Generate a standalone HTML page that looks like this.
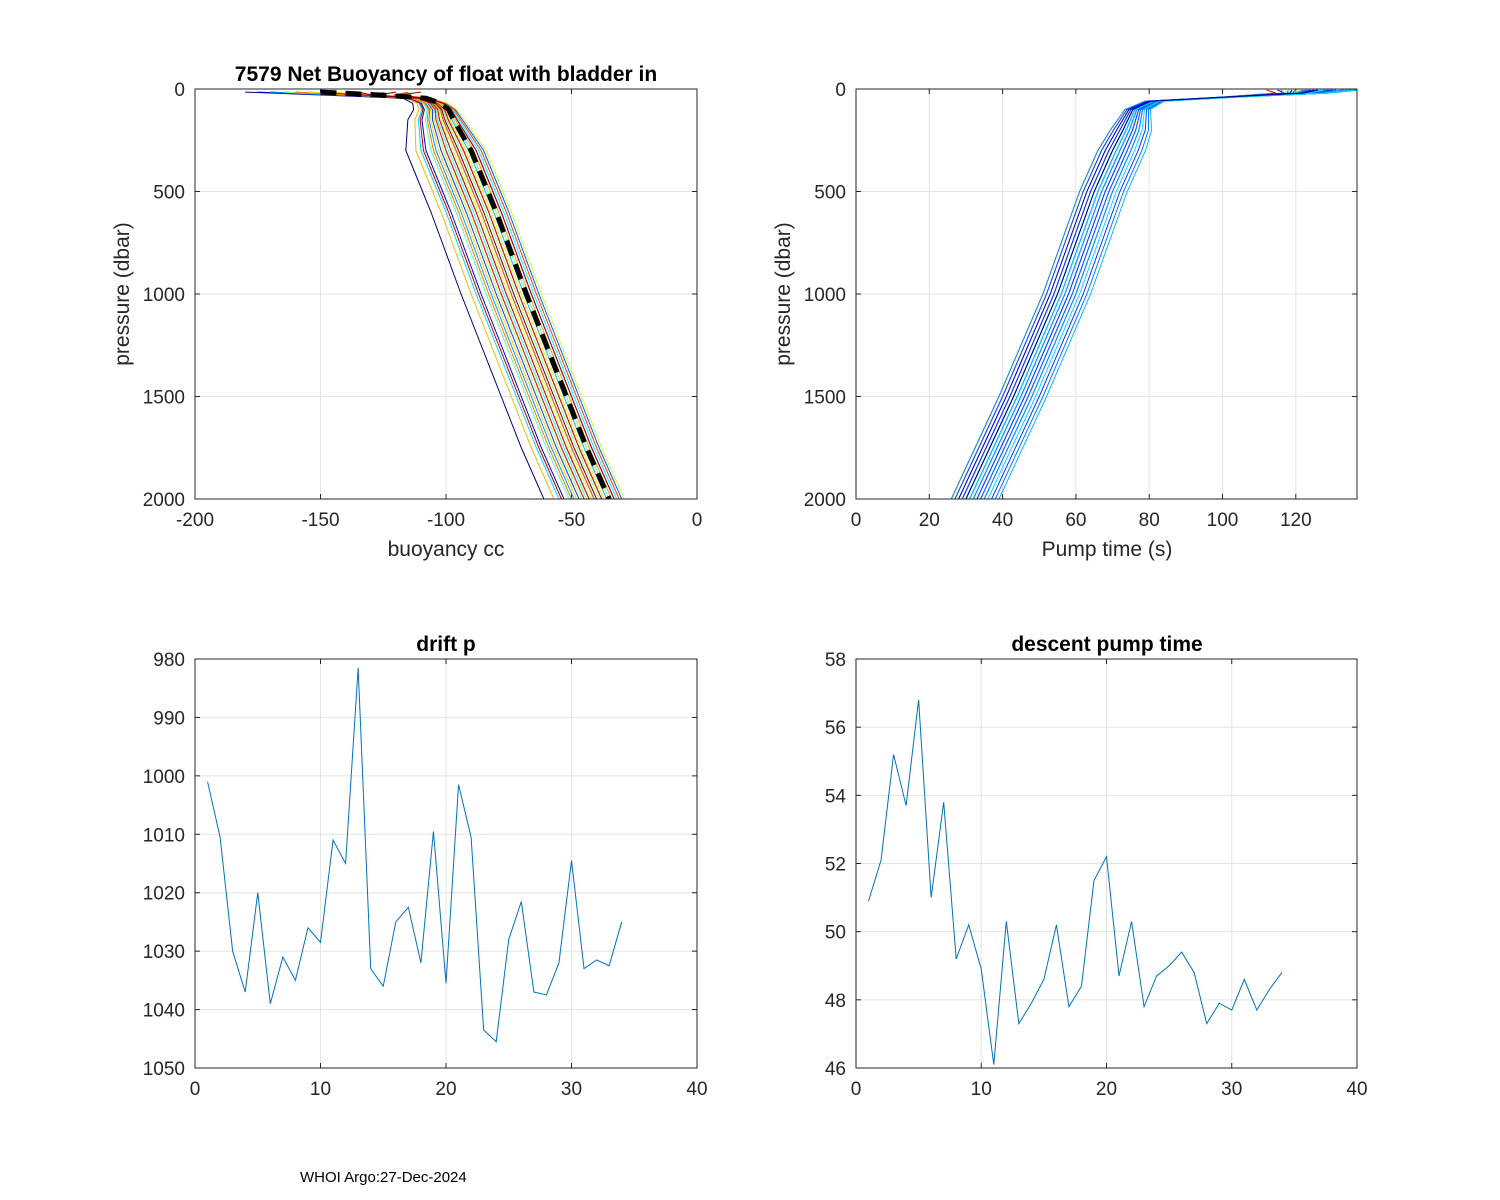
<!DOCTYPE html>
<html><head><meta charset="utf-8"><style>
body{margin:0;background:#fff;}
svg{display:block;font-family:"Liberation Sans",Arial,sans-serif;}
</style></head><body>
<svg id="fig" width="1500" height="1200" viewBox="0 0 1500 1200" xmlns="http://www.w3.org/2000/svg">
<rect width="1500" height="1200" fill="#fff"/>
<text x="300" y="1182" font-size="15">WHOI Argo:27-Dec-2024</text>
</svg>
<script>
// ---- data ----
const profilePressures = [15,30,45,70,100,150,300,450,600,800,1000,1250,1500,1750,2000];
const baseBuoyancy = [-150,-125,-108,-102,-99,-97,-90,-85,-80,-74,-68,-60,-52,-44,-35];
const buoyOffsets = [-26,-3,-10,-18,2,-6,-12,5,-8,-14,-1,-20,3,-5,-9,-16,0,-4,-11,6,-7,-2,-13,-22,1,-15,-6,4,-10,-3,-8,-19,2,-5];
const buoySurface = [-180,-170,-160,-175,-150,-165,-140,-155,-130,-170,-145,-120,-160,-135,-150,-125,-165,-140,-130,-110,-155,-145,-120,-135,-150,-160,-125,-115,-140,-150,-130,-120,-110,-135];
const pumpPressures = [5,20,40,60,100,200,300,500,800,1000,1500,2000];
const basePump = [128,118,100,80,75,72,69,64,58,54,42,29];
const pumpOffsets = [0,-2,1,-3,2,4,-1,3,0,-2,5,1,-3,2,6,-1,3,8,0,4,-2,1,5,9,2,-3,6,0,3,10,-1,2,7,1];
const pumpSurface = [120,118,125,112,130,137,122,115,128,119,135,124,117,126,137,121,129,133,118,136,123,127,131,137,120,116,134,125,122,137,119,128,136,126];
const driftCycles = [1,2,3,4,5,6,7,8,9,10,11,12,13,14,15,16,17,18,19,20,21,22,23,24,25,26,27,28,29,30,31,32,33,34];
const driftP = [1001,1010.5,1030,1037,1020,1039,1031,1035,1026,1028.5,1011,1015,981.5,1033,1036,1025,1022.5,1032,1009.5,1035.5,1001.5,1010.5,1043.5,1045.5,1028,1021.5,1037,1037.5,1032,1014.5,1033,1031.5,1032.5,1025];
const descentPump = [50.9,52.1,55.2,53.7,56.8,51,53.8,49.2,50.2,48.9,46.1,50.3,47.3,47.9,48.6,50.2,47.8,48.4,51.5,52.2,48.7,50.3,47.8,48.7,49,49.4,48.8,47.3,47.9,47.7,48.6,47.7,48.3,48.8];
const tlXTicks=[-200,-150,-100,-50,0], pTicks=[0,500,1000,1500,2000];
const trXTicks=[0,20,40,60,80,100,120];
const bXTicks=[0,10,20,30,40], blYTicks=[980,990,1000,1010,1020,1030,1040,1050], brYTicks=[46,48,50,52,54,56,58];

const svg=document.getElementById('fig');
const NS='http://www.w3.org/2000/svg';
function mk(tag,attrs,parent){const e=document.createElementNS(NS,tag);for(const k in attrs)e.setAttribute(k,attrs[k]);(parent||svg).appendChild(e);return e;}
function jet(t){const r=Math.min(Math.max(Math.min(4*t-1.5,-4*t+4.5),0),1),g=Math.min(Math.max(Math.min(4*t-0.5,-4*t+3.5),0),1),b=Math.min(Math.max(Math.min(4*t+0.5,-4*t+2.5),0),1);return `rgb(${Math.round(r*255)},${Math.round(g*255)},${Math.round(b*255)})`;}

function axes(name,L,T,R,B,xmin,xmax,ymin,ymax,yrev,xt,yt){
  const g=mk('g',{});
  const sx=v=>L+(v-xmin)/(xmax-xmin)*(R-L);
  const sy=v=>yrev?T+(v-ymin)/(ymax-ymin)*(B-T):B-(v-ymin)/(ymax-ymin)*(B-T);
  mk('rect',{x:L,y:T,width:R-L,height:B-T,fill:'#fff'},g);
  xt.forEach(v=>{const x=sx(v);mk('line',{x1:x,x2:x,y1:T,y2:B,stroke:'#e3e3e3'},g);
    mk('line',{x1:x,x2:x,y1:B,y2:B-5,stroke:'#262626'},g);mk('line',{x1:x,x2:x,y1:T,y2:T+5,stroke:'#262626'},g);
    const t=mk('text',{x:x,y:B+27,'font-size':19,'text-anchor':'middle',fill:'#262626'},g);t.textContent=v;});
  yt.forEach(v=>{const y=sy(v);mk('line',{x1:L,x2:R,y1:y,y2:y,stroke:'#e3e3e3'},g);
    mk('line',{x1:L,x2:L+5,y1:y,y2:y,stroke:'#262626'},g);mk('line',{x1:R,x2:R-5,y1:y,y2:y,stroke:'#262626'},g);
    const t=mk('text',{x:L-10,y:y+7,'font-size':19,'text-anchor':'end',fill:'#262626'},g);t.textContent=v;});
  const clip='c'+name;const cp=mk('clipPath',{id:clip},g);mk('rect',{x:L,y:T,width:R-L,height:B-T},cp);
  const plot=mk('g',{'clip-path':`url(#${clip})`},g);
  return {g,plot,sx,sy,L,T,R,B};
}
function frame(a){mk('rect',{x:a.L,y:a.T,width:a.R-a.L,height:a.B-a.T,fill:'none',stroke:'#262626'},a.g);}
function label(a,txt,x,y,rot,size,bold,name){const t=mk('text',{x,y,'font-size':size,'text-anchor':'middle',fill:bold?'#000':'#262626','font-weight':bold?'bold':'normal'},a.g);
  if(rot)t.setAttribute('transform',`rotate(-90 ${x} ${y})`);t.textContent=txt;}

// Top-left
const a1=axes('buoyancy-chart',195,89,697,499,-200,0,0,2000,true,tlXTicks,pTicks);
buoyOffsets.forEach((off,i)=>{
  const pts=profilePressures.map((p,j)=>{let b=baseBuoyancy[j]+off*Math.min(1,p/300+0.2);if(j===0)b=buoySurface[i];if(j===1)b=(buoySurface[i]+b*2)/3;return a1.sx(b)+','+a1.sy(p);}).join(' ');
  const l=mk('polyline',{points:pts,fill:'none',stroke:jet(i/(buoyOffsets.length-1)),'stroke-width':1},a1.plot);
  
});
const meanPts=profilePressures.map((p,j)=>a1.sx(baseBuoyancy[j])+','+a1.sy(p)).join(' ');
const ml=mk('polyline',{points:meanPts,fill:'none',stroke:'#000','stroke-width':5,'stroke-dasharray':'16,9'},a1.plot);

frame(a1);
label(a1,'7579 Net Buoyancy of float with bladder in',446,81,false,21,true,'chart-title');
label(a1,'buoyancy cc',446,556,false,21,false,'x-axis-title');
label(a1,'pressure (dbar)',129,294,true,21,false,'y-axis-title');

// Top-right
const a2=axes('pump-time-chart',856,89,1357,499,0,136.7,0,2000,true,trXTicks,pTicks);
pumpOffsets.forEach((off,i)=>{
  const pts=pumpPressures.map((p,j)=>{let v=basePump[j]+off*Math.min(1,p/300+0.2);if(j===0)v=pumpSurface[i];if(j===1)v=(pumpSurface[i]+v)/2;return a2.sx(v)+','+a2.sy(p);}).join(' ');
  const t=i/(pumpOffsets.length-1);
  const l=mk('polyline',{points:pts,fill:'none',stroke:jet(i%3===0?1-t:t*0.35),'stroke-width':1},a2.plot);
  
});
frame(a2);
label(a2,'Pump time (s)',1107,556,false,21,false,'x-axis-title');
label(a2,'pressure (dbar)',790,294,true,21,false,'y-axis-title');

// Bottom-left
const a3=axes('drift-p-chart',195,659,697,1068,0,40,980,1050,true,bXTicks,blYTicks);
const l3=mk('polyline',{points:driftCycles.map((c,i)=>a3.sx(c)+','+a3.sy(driftP[i])).join(' '),fill:'none',stroke:'#0072bd','stroke-width':1},a3.plot);

frame(a3);
label(a3,'drift p',446,651,false,21,true,'chart-title');

// Bottom-right
const a4=axes('descent-pump-chart',856,659,1357,1068,0,40,46,58,false,bXTicks,brYTicks);
const l4=mk('polyline',{points:driftCycles.map((c,i)=>a4.sx(c)+','+a4.sy(descentPump[i])).join(' '),fill:'none',stroke:'#0072bd','stroke-width':1},a4.plot);

frame(a4);
label(a4,'descent pump time',1107,651,false,21,true,'chart-title');
</script>
</body></html>
